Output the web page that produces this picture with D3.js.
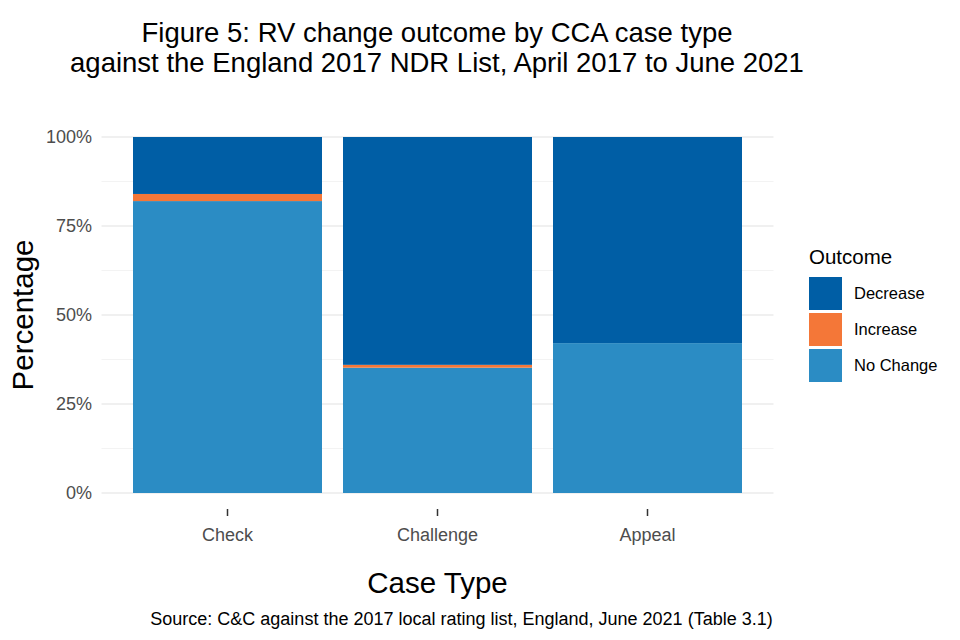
<!DOCTYPE html>
<html><head><meta charset="utf-8">
<script src="https://cdn.jsdelivr.net/npm/d3@7"></script>
<style>body{margin:0;background:#fff}text{font-family:"Liberation Sans",Arial,sans-serif}</style>
</head><body>
<svg id="c" width="960" height="640"></svg>
<script>
const categories = ["Check", "Challenge", "Appeal"];
const outcomes = ["Decrease", "Increase", "No Change"];
const noChange = [82.0, 35.2, 42.1];
const increase = [2.0, 0.8, 0.0];
const decrease = [16.0, 64.0, 57.9];
const yTicks = [0, 25, 50, 75, 100];
const colors = ["#005ea5", "#f47738", "#2b8cc4"];

const svg = d3.select("#c");
const L = 101.5, R = 773.5, T = 137, B = 493;
const x = d3.scaleBand().domain(categories).range([L, R]).paddingInner(0.1).paddingOuter(0.15);
const y = d3.scaleLinear().domain([0, 100]).range([B, T]);

// grid
const minor = [12.5, 37.5, 62.5, 87.5];
svg.selectAll(".gmin").data(minor).enter().append("line")
  .attr("x1", L).attr("x2", R).attr("y1", d => y(d)).attr("y2", d => y(d))
  .attr("stroke", "#f0f0f0").attr("stroke-width", 0.8);
svg.selectAll(".gmaj").data(yTicks).enter().append("line")
  .attr("x1", L).attr("x2", R).attr("y1", d => y(d)).attr("y2", d => y(d))
  .attr("stroke", "#ebebeb").attr("stroke-width", 1.6);

// stacked data: bottom to top: No Change, Increase, Decrease
const rows = categories.map((c, i) => ({cat: c, "No Change": noChange[i], "Increase": increase[i], "Decrease": decrease[i]}));
const stack = d3.stack().keys(["No Change", "Increase", "Decrease"])(rows);
const colorScale = d3.scaleOrdinal().domain(outcomes).range(colors);
stack.forEach(layer => {
  svg.append("g").selectAll("rect").data(layer).enter().append("rect")
    .attr("x", d => x(d.data.cat)).attr("width", x.bandwidth())
    .attr("y", d => y(d[1])).attr("height", d => y(d[0]) - y(d[1]))
    .attr("fill", colorScale(layer.key));
});

// y axis labels
svg.selectAll(".yl").data(yTicks).enter().append("text")
  .attr("x", 92).attr("y", d => y(d)).attr("dy", "0.36em")
  .attr("text-anchor", "end").attr("font-size", 18).attr("fill", "#4d4d4d")
  .text(d => d + "%");

// x axis ticks
const xa = svg.append("g");
categories.forEach(c => {
  const cx = x(c) + x.bandwidth() / 2;
  xa.append("line").attr("x1", cx).attr("x2", cx).attr("y1", 509).attr("y2", 516)
    .attr("stroke", "#333").attr("stroke-width", 1.5);
  xa.append("text").attr("x", cx).attr("y", 541).attr("text-anchor", "middle")
    .attr("font-size", 18).attr("fill", "#4d4d4d").text(c);
});

// axis titles
svg.append("text").attr("x", (L + R) / 2).attr("y", 593).attr("text-anchor", "middle")
  .attr("font-size", 29.5).attr("fill", "#000").text("Case Type");
svg.append("text").attr("transform", `translate(33,${(T + B) / 2}) rotate(-90)`)
  .attr("text-anchor", "middle").attr("font-size", 29.5).attr("fill", "#000").text("Percentage");

// title
svg.append("text").attr("x", 437).attr("y", 42).attr("text-anchor", "middle")
  .attr("font-size", 27.5).attr("fill", "#000").text("Figure 5: RV change outcome by CCA case type");
svg.append("text").attr("x", 437).attr("y", 72).attr("text-anchor", "middle")
  .attr("font-size", 27.5).attr("fill", "#000").text("against the England 2017 NDR List, April 2017 to June 2021");

// caption
svg.append("text").attr("x", 461.5).attr("y", 625).attr("text-anchor", "middle")
  .attr("font-size", 18).attr("fill", "#000").text("Source: C&C against the 2017 local rating list, England, June 2021 (Table 3.1)");

// legend
const lg = svg.append("g");
lg.append("text").attr("x", 809).attr("y", 264).attr("font-size", 20.5).attr("fill", "#000").text("Outcome");
outcomes.forEach((o, i) => {
  const ky = 277 + i * 36;
  lg.append("rect").attr("x", 809).attr("y", ky).attr("width", 33).attr("height", 33).attr("fill", colors[i]);
  lg.append("text").attr("x", 854).attr("y", ky + 16.5).attr("dy", "0.36em")
    .attr("font-size", 16.5).attr("fill", "#000").text(o);
});
</script>
</body></html>
